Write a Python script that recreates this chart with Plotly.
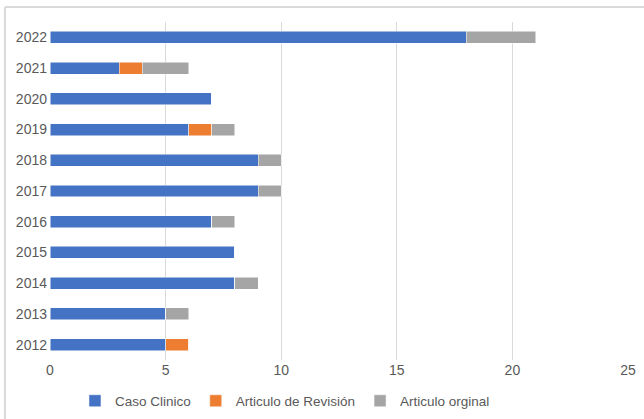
import plotly.graph_objects as go

years = ["2012", "2013", "2014", "2015", "2016", "2017", "2018", "2019", "2020", "2021", "2022"]
caso_clinico = [5, 5, 8, 8, 7, 9, 9, 6, 7, 3, 18]
articulo_revision = [1, 0, 0, 0, 0, 0, 0, 1, 0, 1, 0]
articulo_original = [0, 1, 1, 0, 1, 1, 1, 1, 0, 2, 3]
x_ticks = [0, 5, 10, 15, 20, 25]

series = [
    ("Caso Clinico", caso_clinico, "#4472C4"),
    ("Articulo de Revisión", articulo_revision, "#ED7D31"),
    ("Articulo orginal", articulo_original, "#A5A5A5"),
]

fig = go.Figure()
for name, vals, color in series:
    fig.add_trace(go.Bar(
        y=years, x=vals, name=name, orientation="h",
        marker=dict(color=color, line=dict(color="white", width=0.5)),
    ))

font_family = "Liberation Sans, Arial, sans-serif"
fig.update_layout(
    width=644, height=419,
    barmode="stack", bargap=0.61,
    paper_bgcolor="white", plot_bgcolor="white",
    margin=dict(l=50, r=16, t=22, b=59),
    font=dict(family=font_family, size=14, color="#595959"),
    xaxis=dict(range=[0, 25], tickvals=x_ticks, showgrid=True, gridcolor="#D9D9D9",
               gridwidth=1, zeroline=False, showline=False, ticks="", automargin=False),
    yaxis=dict(type="category", categoryorder="array", categoryarray=years,
               showgrid=False, zeroline=False, showline=False, ticks="", ticklabelstandoff=2,
               automargin=False),
    legend=dict(orientation="h", xref="container", yref="container",
                x=0.4425, xanchor="center", y=0.043, yanchor="middle",
                font=dict(size=13.5, color="#595959"), traceorder="normal",
                itemwidth=30, tracegroupgap=0),
    showlegend=True,
    shapes=[
        dict(type="line", xref="paper", yref="paper", x0=-0.0779, x1=1.05, y0=1.0444, y1=1.0444,
             line=dict(color="#D9D9D9", width=2)),
        dict(type="line", xref="paper", yref="paper", x0=-0.0779, x1=-0.0779, y0=1.0444, y1=-0.2,
             line=dict(color="#D9D9D9", width=2)),
    ],
)
fig.write_html("out.html", config={"displayModeBar": False},
               post_script="document.body.style.margin='0';document.body.style.overflow='hidden';")
